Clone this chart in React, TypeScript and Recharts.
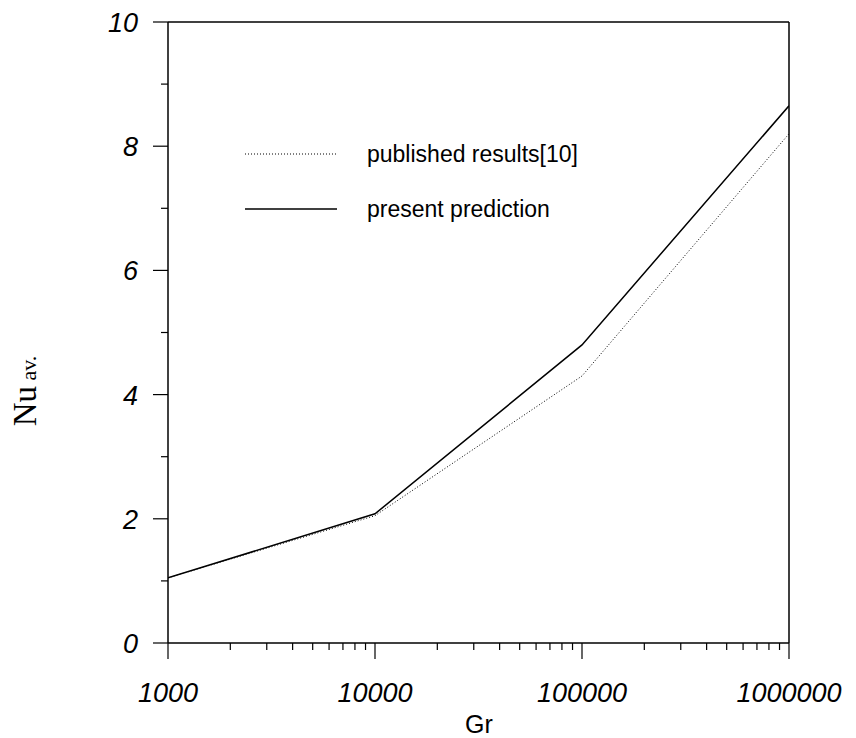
import React from "react";
import { LineChart, Line, XAxis, YAxis } from "recharts";

// Gr (log axis) and average Nusselt number
const grValues = [1000, 10000, 100000, 1000000];
const publishedNu = [1.05, 2.05, 4.3, 8.2];
const presentNu = [1.05, 2.08, 4.8, 8.65];

const xMajorTicks = [1000, 10000, 100000, 1000000];
const minorMultipliers = [2, 3, 4, 5, 6, 7, 8, 9];
const yTicks = [0, 1, 2, 3, 4, 5, 6, 7, 8, 9, 10];

const seriesNames = ["published results[10]", "present prediction"];

const data = grValues.map((gr, i) => ({
  gr,
  published: publishedNu[i],
  present: presentNu[i],
}));

const xTicks: number[] = [];
xMajorTicks.forEach((m, i) => {
  xTicks.push(m);
  if (i < xMajorTicks.length - 1) minorMultipliers.forEach((k) => xTicks.push(m * k));
});

const W = 840;
const H = 730;
const margin = { top: 4, right: 49, bottom: 35, left: 100 };

const tickFont = "Arial, 'Liberation Sans', sans-serif";

const XTick = (props: any) => {
  const { x, y, payload } = props;
  const major = xMajorTicks.includes(payload.value);
  return (
    <g>
      <line x1={x} x2={x} y1={y} y2={y + (major ? 16 : 7)} stroke="#000" strokeWidth={1.2} />
      {major && (
        <text x={x} y={y + 59} textAnchor="middle" fontFamily={tickFont} fontStyle="italic" fontSize={27} fill="#000">
          {payload.value}
        </text>
      )}
    </g>
  );
};

const YTick = (props: any) => {
  const { x, y, payload } = props;
  const major = payload.value % 2 === 0;
  return (
    <g>
      <line x1={x} x2={x - (major ? 15 : 7)} y1={y} y2={y} stroke="#000" strokeWidth={1.2} />
      {major && (
        <text x={x - 30} y={y + 10} textAnchor="end" fontFamily={tickFont} fontStyle="italic" fontSize={27} fill="#000">
          {payload.value}
        </text>
      )}
    </g>
  );
};

export default function App() {
  return (
    <div style={{ position: "relative", width: W, height: H, background: "#fff" }}>
      <LineChart width={W} height={H} data={data} margin={margin}>
        <XAxis
          dataKey="gr"
          type="number"
          scale="log"
          domain={[1000, 1000000]}
          ticks={xTicks}
          interval={0}
          height={60}
          tickSize={0}
          tickMargin={0}
          tickLine={false}
          tick={<XTick />}
          axisLine={{ stroke: "#000", strokeWidth: 1.5 }}
          allowDataOverflow
        />
        <XAxis
          xAxisId="top"
          orientation="top"
          type="number"
          scale="log"
          domain={[1000, 1000000]}
          height={10}
          tick={false}
          tickLine={false}
          axisLine={{ stroke: "#000", strokeWidth: 1.5 }}
        />
        <YAxis
          type="number"
          domain={[0, 10]}
          ticks={yTicks}
          interval={0}
          width={60}
          tickSize={0}
          tickMargin={0}
          tickLine={false}
          tick={<YTick />}
          axisLine={{ stroke: "#000", strokeWidth: 1.5 }}
        />
        <YAxis
          yAxisId="right"
          orientation="right"
          type="number"
          domain={[0, 10]}
          width={10}
          tick={false}
          tickLine={false}
          axisLine={{ stroke: "#000", strokeWidth: 1.5 }}
        />
        <Line
          dataKey="published"
          type="linear"
          stroke="#000"
          strokeWidth={1}
          strokeDasharray="1 2"
          dot={false}
          isAnimationActive={false}
        />
        <Line
          dataKey="present"
          type="linear"
          stroke="#000"
          strokeWidth={1.5}
          dot={false}
          isAnimationActive={false}
        />
      </LineChart>

      {/* legend and axis titles */}
      <svg style={{ position: "absolute", left: 0, top: 0 }} width={W} height={H} pointerEvents="none">
        <line x1={237} x2={329} y1={146} y2={146} stroke="#000" strokeWidth={1} strokeDasharray="1 2" />
        <line x1={237} x2={329} y1={201} y2={201} stroke="#000" strokeWidth={1.5} />
        <text x={359} y={154} fontFamily={tickFont} fontSize={23} fill="#000">
          {seriesNames[0]}
        </text>
        <text x={359} y={209} fontFamily={tickFont} fontSize={23} fill="#000">
          {seriesNames[1]}
        </text>
        <text x={471} y={725} textAnchor="middle" fontFamily={tickFont} fontSize={25} fill="#000">
          Gr
        </text>
        <text
          transform="translate(28 383) rotate(-90)"
          textAnchor="middle"
          fontFamily="'Times New Roman', 'Liberation Serif', serif"
          fontSize={33}
          fill="#000"
        >
          Nu
          <tspan fontSize={22}>{" "}av.</tspan>
        </text>
      </svg>
    </div>
  );
}
